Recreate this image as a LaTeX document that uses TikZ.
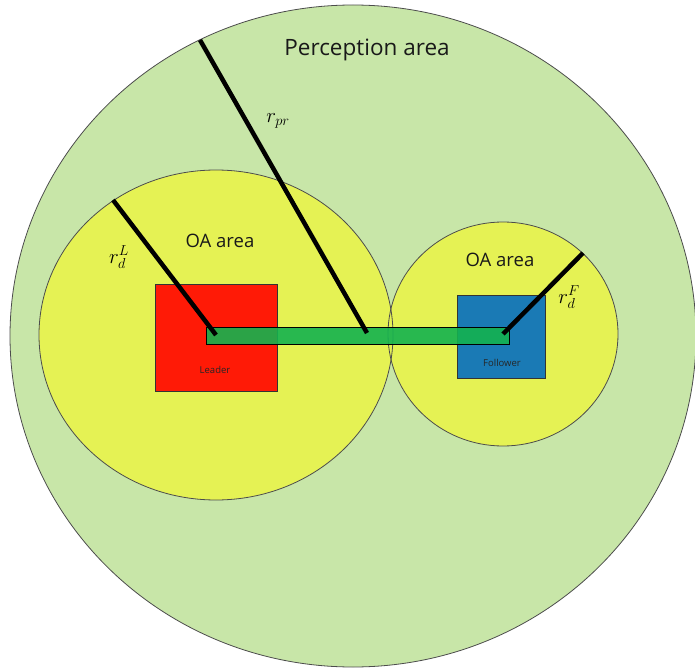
\documentclass[tikz,border=0pt]{standalone}
\usepackage{fontspec}
\setmainfont{Open Sans}
\usepackage{tikz}
\usetikzlibrary{positioning, calc}
\definecolor{area-green}{HTML}{C8E6A8}
\definecolor{oa-yellow}{HTML}{E5F254}
\definecolor{lead-red}{HTML}{FF1A06}
\definecolor{foll-blue}{HTML}{1A7AB5}
\definecolor{link-green}{HTML}{14B24F}

\begin{document}
\begin{tikzpicture}[
    x=1pt, y=-1pt,
    areabox/.style={draw=black!70, line width=0.8pt},
    robot/.style={draw=black!80, line width=0.8pt, minimum width=#1, inner sep=0pt},
    robotlabel/.style={font=\fontsize{9.5}{11}\selectfont, text=black!85},
    radius line/.style={line width=4.5pt, line cap=butt},
    arealabel/.style={font=\fontsize{18.5}{22}\selectfont, text=black!90},
    radiuslabel/.style={font=\fontsize{21}{25}\selectfont, inner sep=1pt},
]
    \useasboundingbox (0,0) rectangle (695,668);
    \clip (0,0) rectangle (695,668);

    % Perception area
    \coordinate (pc) at (353,336);
    \fill[area-green] (pc) ellipse [x radius=343, y radius=331];
    \draw[areabox] (pc) ellipse [x radius=343, y radius=331];

    % OA areas
    \coordinate (lc) at (216,335);
    \coordinate (fc) at (503,334);
    \fill[oa-yellow] (lc) ellipse [x radius=177, y radius=165];
    \fill[oa-yellow] (fc) ellipse [x radius=115, y radius=112];
    \draw[areabox] (lc) ellipse [x radius=177, y radius=165];
    \draw[areabox] (fc) ellipse [x radius=115, y radius=112];

    % Leader and follower
    \node[robot=122pt, minimum height=107pt, fill=lead-red] (leader) at (216,337.5) {};
    \node[robotlabel] (leadtxt) at (215,370) {Leader};
    \node[robot=88pt, minimum height=83pt, fill=foll-blue] (follower) at (501,336.5) {};
    \node[robotlabel] (folltxt) at (502,363) {Follower};

    % Link
    \node[draw=black, line width=0.8pt, fill=link-green, fill opacity=0.9, draw opacity=1,
          minimum width=303pt, minimum height=17pt, inner sep=0pt] (link) at (357.5,335.5) {};

    % Radii
    \coordinate (mid) at (367,333);
    \coordinate (pedge) at (200,40);
    \coordinate (ledge) at (113,200);
    \coordinate (fedge) at (583,253);
    \draw[radius line] (pedge) -- (mid);
    \draw[radius line] (ledge) -- (lc);
    \draw[radius line] (fedge) -- (fc);

    % Labels
    \node[font=\fontsize{22.5}{26}\selectfont, text=black!90] (ptxt) at (367,50) {Perception area};
    \node[arealabel] (loatxt) at (220,241) {OA area};
    \node[arealabel] (foatxt) at (500,260) {OA area};
    \node[radiuslabel] (rpr) at (278,121) {$r_{pr}$};
    \node[radiuslabel] (rdl) at (119,257) {$r^{L}_{d}$};
    \node[radiuslabel] (rdf) at (569,297) {$r^{F}_{d}$};
\end{tikzpicture}
\end{document}
